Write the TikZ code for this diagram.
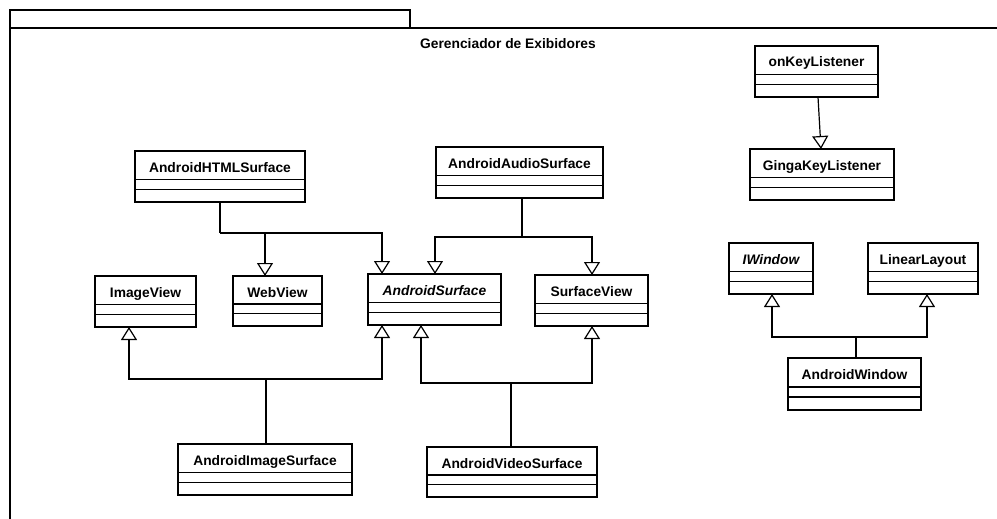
\documentclass[tikz,border=0pt]{standalone}
\usepackage{fontspec}
\setmainfont{Liberation Sans}
\usetikzlibrary{arrows.meta,calc}
\tikzset{
  cls/.style={draw, line width=2.4pt, fill=white, inner sep=0pt, outer sep=0pt, anchor=north west},
  sep/.style={line width=1.3pt},
  conn/.style={line width=1.2pt},
  gen/.style={conn, -{Triangle[open, width=16pt, length=13pt, line width=1.2pt]}},
  lbl/.style={font=\fontsize{13.8}{16}\selectfont\bfseries, inner sep=0pt, anchor=base},
  frame/.style={line width=2pt},
}
\newcommand\umlclass[6]{%
  \node[cls, minimum width=#4pt, minimum height=#5pt] (#1) at (#2,#3) {};
  \node[lbl] (#1-t) at ($(#1.north)+(0,21)$) {#6};
  \draw[sep] ($(#1.north west)+(0,0.56*#5)$) -- ($(#1.north east)+(0,0.56*#5)$);
  \draw[sep] ($(#1.north west)+(0,0.75*#5)$) -- ($(#1.north east)+(0,0.75*#5)$);
}
\begin{document}
\begin{tikzpicture}[x=1pt,y=-1pt]
\useasboundingbox[fill=white] (0,0) rectangle (997,519);
% package frame
\draw[frame] (10,28) -- (10,10) -- (410,10) -- (410,28);
\draw[frame] (10,519) -- (10,28) -- (997,28);
\node[lbl] (title) at (508,49) {Gerenciador de Exibidores};
% classes
\umlclass{okl}{755}{46}{123}{51}{onKeyListener}
\umlclass{gkl}{750}{149}{144}{51}{GingaKeyListener}
\umlclass{iw}{729}{243}{84}{51}{\itshape IWindow}
\umlclass{ll}{868}{243}{110}{51}{LinearLayout}
\umlclass{aw}{788}{358}{133}{52}{AndroidWindow}
\umlclass{hs}{135}{151}{170}{51}{AndroidHTMLSurface}
\umlclass{as}{436}{147}{167}{51}{AndroidAudioSurface}
\umlclass{iv}{95}{276}{101}{51}{ImageView}
\umlclass{wv}{233}{276}{89}{50}{WebView}
\umlclass{asf}{368}{274}{133}{51}{\itshape AndroidSurface}
\umlclass{sv}{535}{275}{113}{51}{SurfaceView}
\umlclass{is}{178}{444}{174}{51}{AndroidImageSurface}
\umlclass{vs}{427}{447}{170}{50}{AndroidVideoSurface}
% connectors
\draw[gen] ([xshift=1.5pt]okl.south) -- ([xshift=-1pt]gkl.north);
% AndroidWindow
\coordinate (jw) at ($(aw.north)+(1.5,-21)$);
\draw[conn] ($(aw.north)+(1.5,0)$) -- (jw);
\draw[gen] (jw) -| ([xshift=1pt]iw.south);
\draw[gen] (jw) -| ([xshift=4pt]ll.south);
% HTML surface
\coordinate (jh) at ($(hs.south)+(0,31)$);
\draw[conn] (hs.south) -- (jh);
\draw[gen] (jh) -| ([xshift=-12.5pt]wv.north);
\draw[gen] (jh) -| ([xshift=-52.5pt]asf.north);
% Audio surface
\coordinate (ja) at ($(as.south)+(2.5,39)$);
\draw[conn] ($(as.south)+(2.5,0)$) -- (ja);
\draw[gen] (ja) -| ([xshift=0.5pt]asf.north);
\draw[gen] (ja) -| ([xshift=0.5pt]sv.north);
% Image surface
\coordinate (ji) at ($(is.north)+(1,-65)$);
\draw[conn] ($(is.north)+(1,0)$) -- (ji);
\draw[gen] (ji) -| ([xshift=-16.5pt]iv.south);
\draw[gen] (ji) -| ([xshift=-52.5pt]asf.south);
% Video surface
\coordinate (jv) at ($(vs.north)+(-1,-64)$);
\draw[conn, line width=2pt] ($(vs.north)+(-1,0)$) -- (jv);
\draw[gen] (jv) -| ([xshift=-13.5pt]asf.south);
\draw[gen] (jv) -| ([xshift=0.5pt]sv.south);
\end{tikzpicture}
\end{document}
